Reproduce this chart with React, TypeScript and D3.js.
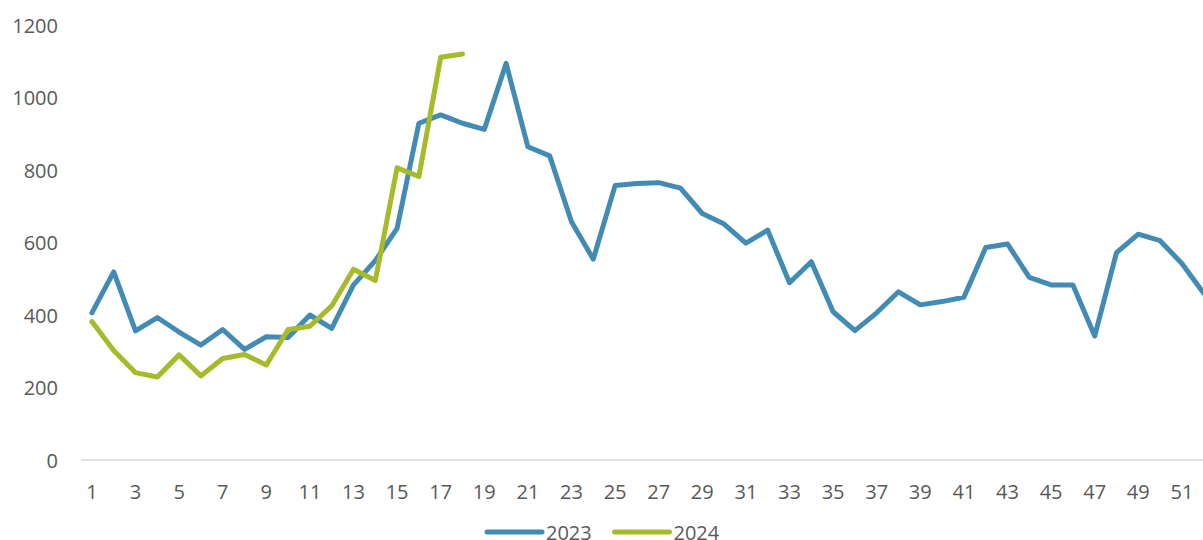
import React from "react";
import * as d3 from "d3";

const weeks: number[] = Array.from({ length: 52 }, (_, i) => i + 1);
const values2023: number[] = [
  406, 519, 356, 393, 353, 317, 360, 305, 340, 338,
  400, 363, 483, 550, 639, 929, 952, 929, 912, 1094,
  864, 839, 657, 554, 757, 763, 765, 750, 680, 651,
  598, 634, 489, 547, 409, 357, 406, 464, 428, 437,
  449, 586, 596, 504, 483, 483, 342, 572, 623, 605,
  542, 460,
];
const values2024: number[] = [
  382, 302, 241, 229, 290, 232, 280, 291, 262, 360,
  369, 425, 526, 495, 806, 782, 1111, 1120,
];
const yTicks: number[] = [0, 200, 400, 600, 800, 1000, 1200];
const xTickLabels: number[] = weeks.filter((w) => w % 2 === 1);
const seriesNames = ["2023", "2024"];
const seriesColors = ["#428BB4", "#A6BA2A"];

const W = 1203;
const H = 540;
const left = 81;
const bandW = 21.8;
const y0 = 460;
const yTop = 25;
const FONT = "'Open Sans', sans-serif";
const TXT = "#595959";

export default function App() {
  const x = d3
    .scaleBand<number>()
    .domain(weeks)
    .range([left, left + weeks.length * bandW])
    .paddingInner(0)
    .paddingOuter(0);
  const cx = (w: number) => (x(w) as number) + x.bandwidth() / 2;
  const y = d3.scaleLinear().domain([0, 1200]).range([y0, yTop]);

  const line = d3
    .line<number>()
    .x((_, i) => cx(weeks[i]))
    .y((d) => y(d));

  const series = [values2023, values2024];

  return (
    <svg
      width={W}
      height={H}
      style={{ position: "absolute", left: 0, top: 0, background: "#fff" }}
      fontFamily={FONT}
    >
      <line x1={left} x2={W} y1={y(0)} y2={y(0)} stroke="#D9D9D9" strokeWidth={1.5} />
      {yTicks.map((t) => (
        <text
          key={t}
          x={58}
          y={y(t)}
          textAnchor="end"
          dominantBaseline="central"
          fontSize={20}
          fill={TXT}
        >
          {t}
        </text>
      ))}
      {xTickLabels.map((w) => (
        <text
          key={w}
          x={cx(w)}
          y={491}
          textAnchor="middle"
          dominantBaseline="central"
          fontSize={20}
          fill={TXT}
        >
          {w}
        </text>
      ))}
      {series.map((s, i) => (
        <path
          key={i}
          d={line(s) || ""}
          fill="none"
          stroke={seriesColors[i]}
          strokeWidth={5}
          strokeLinejoin="round"
          strokeLinecap="round"
        />
      ))}
      {seriesNames.map((n, i) => {
        const lx = 487 + i * 127.5;
        return (
          <g key={n}>
            <line
              x1={lx}
              x2={lx + 55}
              y1={532}
              y2={532}
              stroke={seriesColors[i]}
              strokeWidth={5}
              strokeLinecap="round"
            />
            <text x={lx + 59} y={532} dominantBaseline="central" fontSize={20} fill={TXT}>
              {n}
            </text>
          </g>
        );
      })}
    </svg>
  );
}
